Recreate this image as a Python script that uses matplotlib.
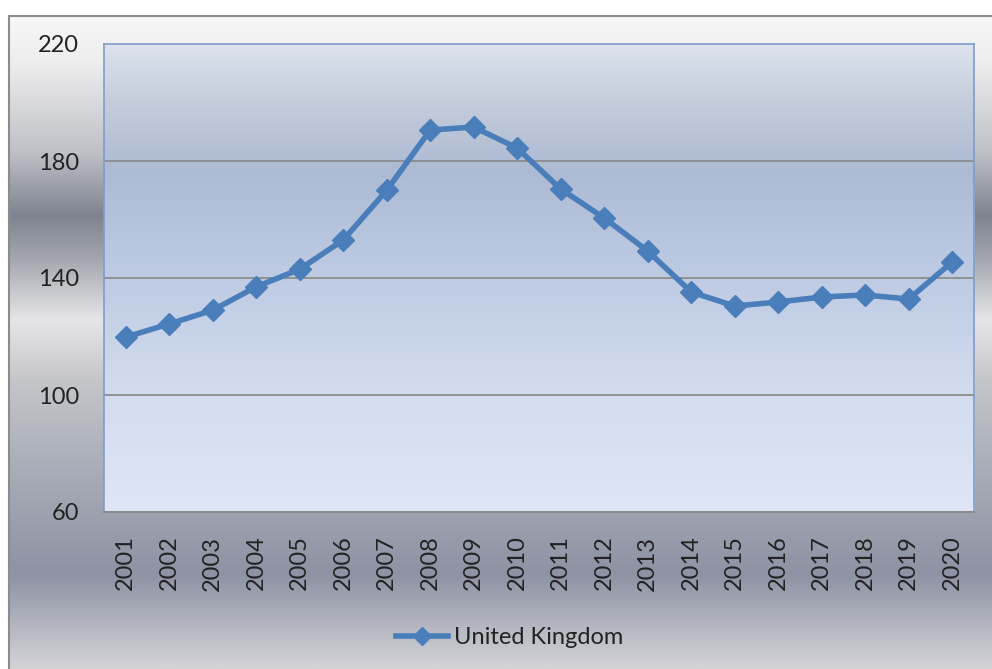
import numpy as np
import matplotlib
matplotlib.use("Agg")
import matplotlib.pyplot as plt
from matplotlib.colors import to_rgb
from matplotlib.lines import Line2D
from matplotlib.patches import Rectangle

years = [str(y) for y in range(2001, 2021)]
uk_values = [119.8, 124.3, 129.0, 137.0, 143.0, 153.0, 170.0, 190.6, 191.6, 184.4,
             170.4, 160.5, 149.2, 135.2, 130.4, 131.8, 133.5, 134.2, 132.8, 145.5]
y_ticks = [60, 100, 140, 180, 220]
series_name = "United Kingdom"

W, H = 992, 669
LINE_BLUE = "#4a7ebb"


def gradient(stops, n):
    # stops: list of (fraction 0..1 from top, hex color)
    pos = np.array([s[0] for s in stops])
    cols = np.array([to_rgb(s[1]) for s in stops])
    t = np.linspace(0, 1, n)
    img = np.stack([np.interp(t, pos, cols[:, k]) for k in range(3)], axis=1)
    return img[:, None, :]


fig = plt.figure(figsize=(W / 100, H / 100), dpi=100)
fig.patch.set_facecolor("white")
plt.rcParams['font.family'] = ['Lato', 'DejaVu Sans']

# chart area background (gray metallic bands)
bx0, by_top = 9, 16
bg_ax = fig.add_axes([bx0 / W, 0, 1 - bx0 / W, (H - by_top) / H])
span = H - by_top
bg_stops = [(0.0, "#f7f7f7"), ((60 - 16) / span, "#eeeeee"), ((150 - 16) / span, "#c0c2c8"),
            ((215 - 16) / span, "#7e838f"), ((260 - 16) / span, "#a5a8b0"),
            ((320 - 16) / span, "#e6e6e8"), ((380 - 16) / span, "#c5c6ca"),
            ((450 - 16) / span, "#aeb2bb"), ((575 - 16) / span, "#8d93a4"), (1.0, "#d4d4d8")]
bg_ax.imshow(gradient(bg_stops, 400), aspect="auto", extent=[0, 1, 0, 1])
bg_ax.set_xlim(0, 1)
bg_ax.set_ylim(0, 1)
bg_ax.axis("off")
fig.patches.append(Rectangle((bx0 / W, -0.01), 1.01 - bx0 / W, (H - by_top) / H + 0.01,
                             transform=fig.transFigure, fill=False, edgecolor="#8c8c8c",
                             linewidth=1.5, zorder=5))

# plot area
left, right, top, bottom = 104, 974, 44, 512
ax = fig.add_axes([left / W, (H - bottom) / H, (right - left) / W, (bottom - top) / H])
ax.set_facecolor("none")
plot_stops = [(0.0, "#dce3ee"), (0.12, "#c5cddc"), (0.27, "#adbad3"), (0.44, "#b9c7e0"),
              (0.76, "#d3ddf0"), (1.0, "#dfe6f5")]
x = np.arange(len(years))
ax.imshow(gradient(plot_stops, 300), aspect="auto",
          extent=[-0.5, len(years) - 0.5, 60, 220], zorder=0)

for yt in y_ticks[1:-1]:
    ax.axhline(yt, color="#8c8c8c", linewidth=1.3, zorder=1)

ax.plot(x, uk_values, color=LINE_BLUE, linewidth=4, marker="D", markersize=11,
        markerfacecolor=LINE_BLUE, markeredgecolor=LINE_BLUE, zorder=3)

ax.set_xlim(-0.5, len(years) - 0.5)
ax.set_ylim(60, 220)
ax.set_yticks(y_ticks)
ax.set_yticklabels([str(v) for v in y_ticks], fontsize=17, color="#222222")
ax.set_xticks(x)
ax.set_xticklabels(years, rotation=90, fontsize=17, color="#222222")
ax.tick_params(axis="y", length=0, pad=18)
ax.tick_params(axis="x", length=0, pad=17)

for side in ["left", "right", "top"]:
    ax.spines[side].set_color("#7f9dc8")
    ax.spines[side].set_linewidth(1.2)
ax.spines["bottom"].set_color("#8c8c8c")
ax.spines["bottom"].set_linewidth(1.5)

handle = Line2D([], [], color=LINE_BLUE, linewidth=4, marker="D", markersize=9)
fig.legend([handle], [series_name], loc="center", bbox_to_anchor=(510 / W, 1 - 638 / H),
           frameon=False, fontsize=17, handlelength=2.2, handletextpad=0.25,
           labelcolor="#222222")

fig.savefig("out.png", dpi=100)
